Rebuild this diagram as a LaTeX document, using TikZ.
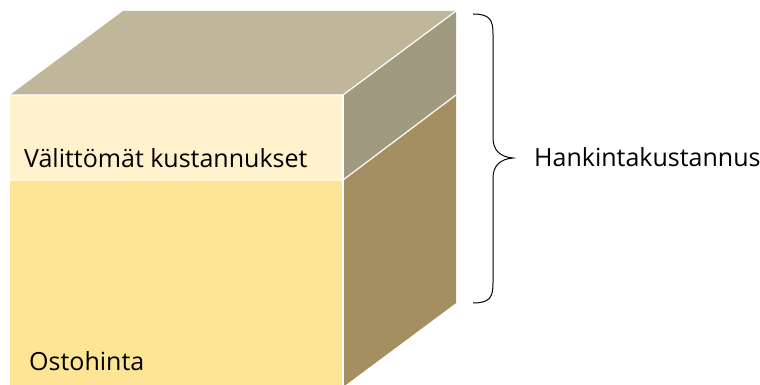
\documentclass[tikz,border=0pt]{standalone}
\usepackage{fontspec}
\setmainfont{Open Sans}
\definecolor{topc}{HTML}{C0B699}
\definecolor{rupc}{HTML}{A09A80}
\definecolor{rlowc}{HTML}{A38F60}
\definecolor{fupc}{HTML}{FEF1CC}
\definecolor{flowc}{HTML}{FEE596}
\tikzset{face/.style={draw=white, line width=1.2pt, line join=round},
  lbl/.style={font=\fontsize{25}{30}\selectfont, anchor=base west, inner sep=0pt}}
\begin{document}
\begin{tikzpicture}[x=1pt,y=-1pt]
\useasboundingbox (0,0) rectangle (760,385);
% coordinates
\coordinate (fl) at (10,95);
\coordinate (fr) at (343,95);
\coordinate (bl) at (123,11);
\coordinate (br) at (456,11);
\coordinate (fml) at (10,180);
\coordinate (fmr) at (343,180);
\coordinate (rm) at (456,95);
\coordinate (fbl) at (10,387);
\coordinate (fbr) at (343,387);
\coordinate (rb) at (456,303);
% faces
\fill[topc] (fl) -- (bl) -- (br) -- (fr) -- cycle;
\fill[rupc] (fr) -- (br) -- (rm) -- (fmr) -- cycle;
\fill[rlowc] (fmr) -- (rm) -- (rb) -- (fbr) -- cycle;
\fill[fupc] (fl) -- (fr) -- (fmr) -- (fml) -- cycle;
\fill[flowc] (fml) -- (fmr) -- (fbr) -- (fbl) -- cycle;
% white edges
\draw[face] (fl) -- (fr) -- (br);
\draw[face] (fr) -- (fbr);
\draw[face] (fml) -- (fmr) -- (rm);
% labels
\node[lbl] (v) at (24,167) {Välittömät kustannukset};
\node[lbl] (o) at (29,370) {Ostohinta};
\node[lbl] (h) at (534,166) {Hankintakustannus};
% brace
\draw[line width=1pt] (473,14) .. controls (490,14) and (493,20) .. (493,34)
  -- (493,138) .. controls (493,150) and (500,157) .. (513,158)
  .. controls (500,159) and (493,166) .. (493,178)
  -- (493,283) .. controls (493,297) and (490,303) .. (473,303);
\end{tikzpicture}
\end{document}
